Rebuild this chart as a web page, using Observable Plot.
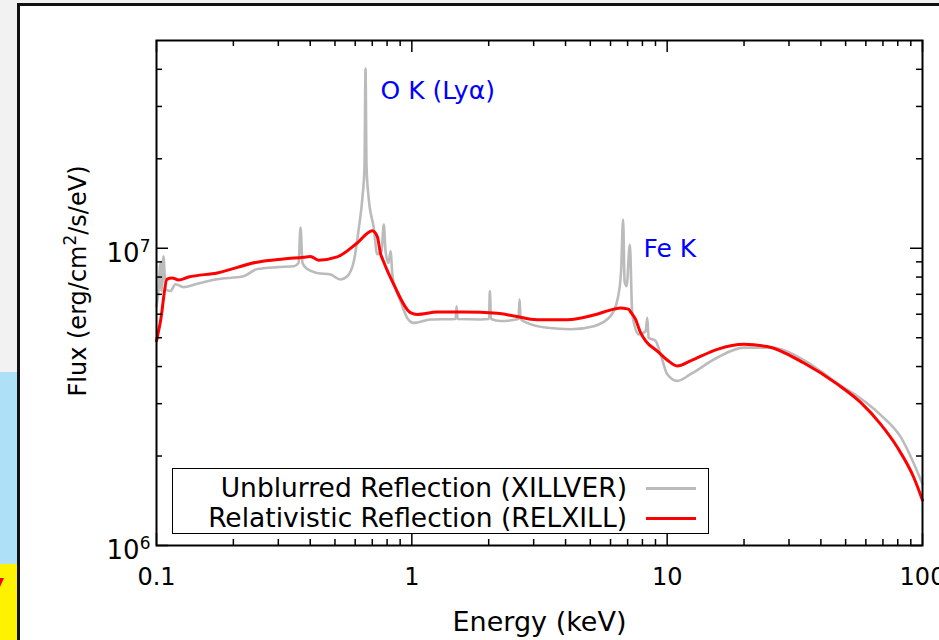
<!DOCTYPE html>
<html><head><meta charset="utf-8">
<script src="https://cdn.jsdelivr.net/npm/d3@7"></script>
<script src="https://cdn.jsdelivr.net/npm/@observablehq/plot@0.6"></script>
<style>
html,body{margin:0;padding:0;width:939px;height:640px;overflow:hidden;background:#f2f2f2;font-family:"DejaVu Sans",sans-serif;}
#blue{position:absolute;left:0;top:372px;width:17px;height:192px;background:#aee0f8;}
#yellow{position:absolute;left:0;top:564px;width:17px;height:76px;background:#fff200;}
#redmark{position:absolute;left:0;top:578px;width:0;height:0;border-top:9px solid #f00;border-right:4px solid transparent;}
#panel{position:absolute;left:17px;top:3px;width:1000px;height:700px;background:#fff;border-left:3px solid #111;border-top:3px solid #111;}
#chart{position:absolute;left:0;top:0;}
#legend{position:absolute;left:172px;top:468px;width:535px;height:64px;border:1.5px solid #000;background:#fff;font-size:26.5px;color:#000;}
.row{position:absolute;left:0;width:100%;height:30px;line-height:30px;}
.row span{position:absolute;right:81px;top:0;white-space:nowrap;}
.row i{position:absolute;left:473px;top:14px;width:50px;height:3px;}
</style></head>
<body>
<div id="blue"></div><div id="yellow"></div><div id="redmark"></div><div id="panel"></div>
<div id="chart"></div>
<div id="legend">
  <div class="row" style="top:4px"><span id="l1"></span><i style="background:#bbbbbb"></i></div>
  <div class="row" style="top:34px"><span id="l2"></span><i style="background:#ff0000"></i></div>
</div>
<script>
// Unblurred reflection (XILLVER): energy (keV) and flux (erg/cm^2/s/eV)
const xillverE = [0.100,0.1018,0.1037,0.1046,0.1065,0.1085,0.1134,0.1187,0.1276,0.1422,0.1729,0.2192,0.2480,0.2971,0.3450,0.360,0.3665,0.3731,0.3893,0.4261,0.4803,0.5257,0.5584,0.5927,0.6201,0.6410,0.6527,0.6586,0.6646,0.6767,0.7097,0.7318,0.7609,0.7768,0.7889,0.8102,0.8252,0.8402,0.8633,0.9031,0.9594,1.018,1.184,1.483,1.497,1.510,1.858,2.006,2.021,2.043,2.225,2.617,2.642,2.667,2.831,3.392,4.184,5.164,6.001,6.393,6.600,6.720,6.811,6.934,7.143,7.300,7.749,8.232,8.360,8.459,9.009,9.424,10.01,10.95,12.35,15.72,19.97,25.41,34.32,39.89,49.20,53.85,68.52,82.09,100];
const xillverF = [6.38e6,7.18e6,8.91e6,7.18e6,9.40e6,7.28e6,7.18e6,7.57e6,7.40e6,7.57e6,7.87e6,8.05e6,8.51e6,8.64e6,8.70e6,8.92e6,1.175e7,8.92e6,8.51e6,8.26e6,8.16e6,7.85e6,8.05e6,9.04e6,1.169e7,1.493e7,1.882e7,4.02e7,1.882e7,1.493e7,1.169e7,9.55e6,9.77e6,1.202e7,9.77e6,8.92e6,9.77e6,8.05e6,7.36e6,6.63e6,5.83e6,5.61e6,5.76e6,5.78e6,6.38e6,5.78e6,5.76e6,5.78e6,7.18e6,5.78e6,5.69e6,5.78e6,6.73e6,5.78e6,5.61e6,5.40e6,5.34e6,5.47e6,5.91e6,6.74e6,8.37e6,1.25e7,7.74e6,7.45e6,1.028e7,6.00e6,5.13e6,5.26e6,5.83e6,5.00e6,4.88e6,4.40e6,3.77e6,3.58e6,3.77e6,4.29e6,4.63e6,4.63e6,4.20e6,3.86e6,3.40e6,3.24e6,2.75e6,2.32e6,1.61e6];
// Relativistic reflection (RELXILL)
const relxillE = [0.100,0.1037,0.110,0.1152,0.122,0.1335,0.173,0.248,0.314,0.3775,0.401,0.431,0.510,0.611,0.700,0.732,0.754,0.774,0.850,0.988,1.050,1.257,1.598,2.160,2.509,3.099,4.062,5.164,6.183,6.568,6.767,7.079,7.190,7.521,7.868,8.232,9.147,10.0,10.95,12.35,15.72,19.97,24.66,34.32,46.38,57.24,68.52,79.68,92.54,100];
const relxillF = [4.88e6,5.69e6,7.87e6,7.95e6,7.82e6,8.00e6,8.26e6,8.98e6,9.20e6,9.33e6,9.38e6,9.12e6,9.35e6,1.042e7,1.146e7,1.097e7,9.60e6,9.04e6,7.55e6,6.07e6,5.99e6,6.10e6,6.10e6,6.04e6,5.92e6,5.75e6,5.75e6,5.96e6,6.24e6,6.30e6,6.28e6,6.23e6,6.11e6,5.76e6,5.20e6,4.88e6,4.51e6,4.21e6,4.02e6,4.18e6,4.57e6,4.75e6,4.67e6,4.11e6,3.49e6,3.03e6,2.56e6,2.14e6,1.69e6,1.42e6];
const seriesNames = ["Unblurred Reflection (XILLVER)", "Relativistic Reflection (RELXILL)"];
const xTickValues = [0.1, 1, 10, 100];
const yTickValues = [1e6, 1e7];
const yTickLabels = ["10^6", "10^7"];
const annotations = [
  {E: 0.754, F: 3.37e7, label: "O K (Lyα)"},
  {E: 8.08, F: 9.93e6, label: "Fe K"}
];
const xLabel = "Energy (keV)";
const yLabel = "Flux (erg/cm^2/s/eV)";

const xill = xillverE.map((e, i) => ({E: e, F: xillverF[i]}));
const rel = relxillE.map((e, i) => ({E: e, F: relxillF[i]}));
const xMinor = [0.1, 1, 10].flatMap(d => [2,3,4,5,6,7,8,9].map(k => k * d));
const yMinor = [2e6,3e6,4e6,5e6,6e6,7e6,8e6,9e6,2e7,3e7,4e7];

const W = 939, H = 640, mL = 156, mR = 17, mT = 40, mB = 95;
const iw = W - mL - mR, ih = H - mT - mB;
const maj = 12, mnr = 6;
const tk = {stroke: "#000", strokeWidth: 1.5};

document.getElementById("l1").textContent = seriesNames[0];
document.getElementById("l2").textContent = seriesNames[1];

const chart = Plot.plot({
  width: W, height: H,
  marginLeft: mL, marginRight: mR, marginTop: mT, marginBottom: mB,
  style: {background: "transparent", fontFamily: "DejaVu Sans", fontSize: "25px", color: "#000", overflow: "visible"},
  x: {type: "log", domain: [0.1, 100]},
  y: {type: "log", domain: [1e6, 5e7]},
  marks: [
    Plot.line(xill, {x: "E", y: "F", stroke: "#bbbbbb", strokeWidth: 2.6, curve: "monotone-x"}),
    Plot.line(rel, {x: "E", y: "F", stroke: "#ff0000", strokeWidth: 3, curve: "monotone-x"}),
    // inward ticks on all four sides
    Plot.tickX(xTickValues, {x: d => d, insetTop: ih - maj, ...tk}),
    Plot.tickX(xTickValues, {x: d => d, insetBottom: ih - maj, ...tk}),
    Plot.tickX(xMinor, {x: d => d, insetTop: ih - mnr, ...tk}),
    Plot.tickX(xMinor, {x: d => d, insetBottom: ih - mnr, ...tk}),
    Plot.tickY(yTickValues, {y: d => d, insetRight: iw - maj, ...tk}),
    Plot.tickY(yTickValues, {y: d => d, insetLeft: iw - maj, ...tk}),
    Plot.tickY(yMinor, {y: d => d, insetRight: iw - mnr, ...tk}),
    Plot.tickY(yMinor, {y: d => d, insetLeft: iw - mnr, ...tk}),
    Plot.axisX({ticks: xTickValues, tickSize: 0, tickPadding: 22, tickFormat: d => String(d), label: null, fontSize: 24}),
    Plot.axisY({ticks: yTickValues, tickSize: 0, tickPadding: 6, dy: 5, tickFormat: d => yTickLabels[yTickValues.indexOf(d)], label: null, fontSize: 26}),
    Plot.text(annotations, {x: "E", y: "F", text: "label", fill: "#0000ff", textAnchor: "start", lineAnchor: "middle", fontSize: 25}),
    Plot.text([xLabel], {text: d => d, frameAnchor: "bottom", dy: 77, textAnchor: "middle", lineAnchor: "middle", fontSize: 27}),
    Plot.text([yLabel], {text: d => d, frameAnchor: "left", dx: -78, dy: -12, rotate: -90, textAnchor: "middle", lineAnchor: "middle", fontSize: 24}),
    Plot.frame({stroke: "#000", strokeWidth: 2})
  ]
});

// turn "^n" into real superscript tspans
d3.select(chart).selectAll("text").each(function () {
  const t = this.textContent;
  if (!t.includes("^")) return;
  const fs = parseFloat(getComputedStyle(this).fontSize) || 24;
  const sup = Math.round(fs * 0.72), shift = Math.round(fs * 0.42);
  const sel = d3.select(this);
  sel.text(null);
  let raised = false;
  t.split(/(\^\d+)/).forEach(part => {
    if (!part) return;
    if (part.startsWith("^")) {
      sel.append("tspan").attr("font-size", sup).attr("dy", -shift).text(part.slice(1));
      raised = true;
    } else {
      const ts = sel.append("tspan").text(part);
      if (raised) { ts.attr("dy", shift); raised = false; }
    }
  });
});
document.getElementById("chart").appendChild(chart);
</script>
</body></html>
